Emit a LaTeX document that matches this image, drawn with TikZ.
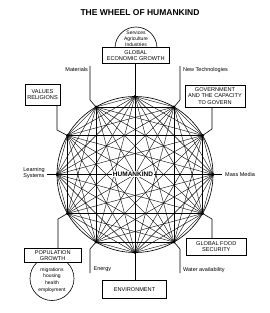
\documentclass[tikz,border=0pt]{standalone}
\usepackage{fontspec}
\setmainfont{Liberation Sans}
\begin{document}
\begin{tikzpicture}[x=1pt,y=-1pt,
  lbl/.style={font=\fontsize{5.5}{6.6}\selectfont, inner sep=0pt, align=left},
  tbox/.style={draw, line width=0.6pt, fill=white, inner sep=0pt, align=center,
    font=\fontsize{5.6}{6.3}\selectfont},
  conn/.style={line width=0.6pt},
  chord/.style={line width=0.4pt},
  vdot/.style={circle, fill=black, inner sep=0pt, minimum size=3.2pt}]
\useasboundingbox (0,0) rectangle (270,313);

% title
\node[font=\bfseries\fontsize{8.5}{10}\selectfont] (title) at (140,13) {THE WHEEL OF HUMANKIND};

% wheel
\coordinate (C) at (135,174.5);
\foreach \k in {0,...,11}{
  \coordinate (v\k) at ({135+78*cos(\k*30)},{174.5-78*sin(\k*30)});
}
\draw[line width=0.65pt] (C) circle[radius=78pt];
\foreach \i in {0,...,10}{
  \pgfmathtruncatemacro\s{\i+1}
  \foreach \j in {\s,...,11}{
    \draw[chord] (v\i) -- (v\j);
  }
}
\foreach \k in {0,...,11}{ \node[vdot] (d\k) at (v\k) {}; }
\node[font=\bfseries\fontsize{6.5}{7}\selectfont, fill=white, inner sep=0.6pt] (hk) at (133,174) {HUMANKIND};

% top: global economic growth with dome
\draw[conn] (115,48) arc[start angle=180, end angle=0, radius=21pt];
\node[lbl, align=center, font=\fontsize{5}{6}\selectfont] (dome) at (136,39) {Services\\Agriculture\\Industries};
\node[tbox, minimum width=66.7pt, minimum height=15.6pt] (geg) at (135.7,55.5) {GLOBAL\\ECONOMIC GROWTH};
\draw[conn] (geg.south -| v3) -- (v3);

% materials
\node[lbl, anchor=east] (mat) at (88,70) {Materials};
\coordinate (m0) at (90,66);
\coordinate (m1) at (90,100);
\draw[conn] (m0) -- (m1) -- (v4);

% new technologies
\node[lbl, anchor=west] (nt) at (183,70) {New Technologies};
\coordinate (n0) at (180,66);
\coordinate (n1) at (180,100);
\draw[conn] (n0) -- (n1) -- (v2);

% values religions
\node[tbox, minimum width=35pt, minimum height=21pt] (val) at (42.5,94.5) {VALUES\\RELIGIONS};
\coordinate (a1) at (57,130);
\draw[conn] (val.south -| a1) -- (a1) -- (v5);

% government
\node[tbox, minimum width=60pt, minimum height=21.7pt] (gov) at (215,96) {GOVERNMENT\\AND THE CAPACITY\\TO GOVERN};
\coordinate (g1) at (212,129);
\draw[conn] (gov.south -| g1) -- (g1) -- (v1);

% learning systems
\node[lbl, anchor=east] (ls) at (45,173) {Learning\\Systems};
\coordinate (l0) at (47,174.5);
\draw[conn] (l0) -- (v6);

% mass media
\node[lbl, anchor=west] (mm) at (225,174.5) {Mass Media};
\coordinate (mm0) at (222,174.5);
\draw[conn] (v0) -- (mm0);

% population growth
\draw[conn] (52,278.5) circle[radius=22pt];
\node[tbox, minimum width=56.7pt, minimum height=14pt] (pop) at (52.7,255.3) {POPULATION\\GROWTH};
\node[lbl, align=center, font=\fontsize{5}{6.7}\selectfont] (popt) at (52,280) {migrations\\housing\\health\\employment};
\coordinate (p1) at (58,219);
\draw[conn] (pop.north -| p1) -- (p1) -- (v7);

% energy
\coordinate (e1) at (90,249);
\coordinate (e2) at (90,273);
\draw[conn] (v8) -- (e1) -- (e2);
\node[lbl, anchor=west] (en) at (93.5,269.5) {Energy};

% environment
\node[tbox, minimum width=63.7pt, minimum height=18.3pt] (env) at (134.5,289.2) {ENVIRONMENT};
\draw[conn] (v9) -- (env.north -| v9);

% water availability
\coordinate (w1) at (180,249);
\coordinate (w2) at (180,273);
\draw[conn] (v10) -- (w1) -- (w2);
\node[lbl, anchor=west] (wa) at (183,270) {Water availability};

% global food security
\node[tbox, minimum width=60.7pt, minimum height=16.7pt] (food) at (216.3,246.7) {GLOBAL FOOD\\SECURITY};
\coordinate (f1) at (212,219);
\draw[conn] (v11) -- (f1) -- (food.north -| f1);
\end{tikzpicture}
\end{document}
